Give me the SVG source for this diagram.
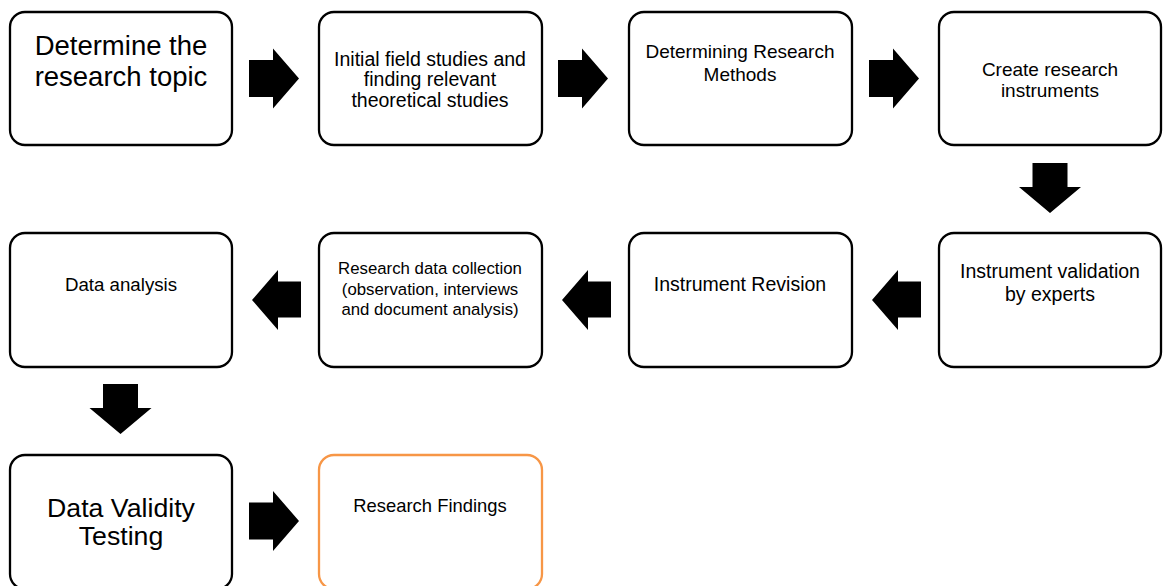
<svg xmlns="http://www.w3.org/2000/svg" width="1165" height="586" viewBox="0 0 1165 586">
<style>
.box{fill:#fff;stroke:#000;stroke-width:2.3}
.orange{stroke:#F79646}
.t{font-family:"Liberation Sans",Arial,sans-serif;fill:#000;text-anchor:middle}
.arr{fill:#000}
</style>
<defs>
<path id="ar" d="M0,-18.5 H24 V-30 L50,0 L24,30 V18.5 H0 Z"/>
<path id="al" d="M0,0 L26,-30 V-18.5 H49 V17.5 H26 V30 Z"/>
<path id="ad" d="M-17.5,0 H17.5 V24 H31 L0,50 L-31,24 H-17.5 Z"/>
</defs>
<rect width="1165" height="586" fill="#fff"/>
<g id="n1"><rect class="box" x="10" y="12" width="222" height="133" rx="15"/>
<text class="t" font-size="27.5" x="121" y="55">Determine the</text>
<text class="t" font-size="27.5" x="121" y="86">research topic</text></g>
<g id="n2"><rect class="box" x="319" y="12" width="223" height="133" rx="15"/>
<text class="t" font-size="19.5" x="430" y="66">Initial field studies and</text>
<text class="t" font-size="19.5" x="430" y="86">finding relevant</text>
<text class="t" font-size="19.5" x="430" y="107">theoretical studies</text></g>
<g id="n3"><rect class="box" x="629" y="12" width="223" height="133" rx="15"/>
<text class="t" font-size="19" x="740" y="58">Determining Research</text>
<text class="t" font-size="19" x="740" y="81">Methods</text></g>
<g id="n4"><rect class="box" x="939" y="12" width="222" height="133" rx="15"/>
<text class="t" font-size="19" x="1050" y="76">Create research</text>
<text class="t" font-size="19" x="1050" y="97">instruments</text></g>
<g id="n5"><rect class="box" x="939" y="233" width="222" height="134" rx="15"/>
<text class="t" font-size="19.5" x="1050" y="278">Instrument validation</text>
<text class="t" font-size="19.5" x="1050" y="301">by experts</text></g>
<g id="n6"><rect class="box" x="629" y="233" width="223" height="134" rx="15"/>
<text class="t" font-size="19.5" x="740" y="291">Instrument Revision</text></g>
<g id="n7"><rect class="box" x="319" y="233" width="223" height="134" rx="15"/>
<text class="t" font-size="16.8" x="430" y="274">Research data collection</text>
<text class="t" font-size="16.8" x="430" y="295">(observation, interviews</text>
<text class="t" font-size="16.8" x="430" y="315">and document analysis)</text></g>
<g id="n8"><rect class="box" x="10" y="233" width="222" height="134" rx="15"/>
<text class="t" font-size="18.7" x="121" y="291">Data analysis</text></g>
<g id="n9"><rect class="box" x="10" y="455" width="222" height="134" rx="15"/>
<text class="t" font-size="26.7" x="121" y="517">Data Validity</text>
<text class="t" font-size="26.7" x="121" y="545">Testing</text></g>
<g id="n10"><rect class="box orange" x="319" y="455" width="223" height="134" rx="15"/>
<text class="t" font-size="18.4" x="430" y="512">Research Findings</text></g>
<g id="connectors" class="arr">
<use href="#ar" x="249" y="78.5"/>
<use href="#ar" x="558" y="78.5"/>
<use href="#ar" x="869" y="78.5"/>
<use href="#ad" x="1050" y="163"/>
<use href="#al" x="872" y="300"/>
<use href="#al" x="562" y="300"/>
<use href="#al" x="252" y="300"/>
<use href="#ad" x="120.5" y="384"/>
<use href="#ar" x="249" y="521"/>
</g>
</svg>
